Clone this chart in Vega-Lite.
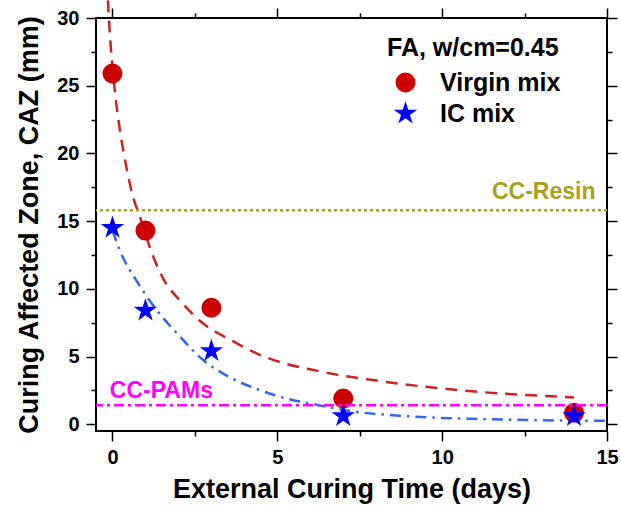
{
  "$schema": "https://vega.github.io/schema/vega-lite/v6.json",
  "width": 511,
  "height": 413,
  "autosize": {"type": "none"},
  "padding": {"left": 96, "top": 18, "right": 14, "bottom": 74},
  "config": {
    "font": "Liberation Sans",
    "view": {"stroke": "black", "strokeWidth": 2},
    "axis": {
      "domain": false, "grid": false, "tickColor": "black", "tickWidth": 1.5,
      "labelFont": "Liberation Sans", "labelFontSize": 20, "labelFontWeight": "bold", "labelColor": "black",
      "titleFont": "Liberation Sans", "titleFontSize": 27, "titleFontWeight": "bold", "titleColor": "black"
    },
    "legend": {
      "orient": "none", "legendX": 291, "legendY": 18, "padding": 0,
      "titleFont": "Liberation Sans", "titleFontSize": 25, "titleFontWeight": "bold", "titleColor": "black",
      "titlePadding": 9, "labelFont": "Liberation Sans", "labelFontSize": 25, "labelFontWeight": "bold",
      "labelColor": "black", "rowPadding": 5, "symbolOffset": 6, "labelOffset": 22, "symbolStrokeWidth": 0
    }
  },
  "datasets": {
    "points": [
      {"series": "Virgin mix", "x": 0, "y": 25.9},
      {"series": "Virgin mix", "x": 1, "y": 14.3},
      {"series": "Virgin mix", "x": 3, "y": 8.6},
      {"series": "Virgin mix", "x": 7, "y": 1.9},
      {"series": "Virgin mix", "x": 14, "y": 0.85},
      {"series": "IC mix", "x": 0, "y": 14.5},
      {"series": "IC mix", "x": 1, "y": 8.4},
      {"series": "IC mix", "x": 3, "y": 5.4},
      {"series": "IC mix", "x": 7, "y": 0.6},
      {"series": "IC mix", "x": 14, "y": 0.6}
    ],
    "virginFit": [
      {"x": -0.14, "y": 31.3}, {"x": -0.1, "y": 29.6}, {"x": -0.05, "y": 27.8}, {"x": 0.09, "y": 24.2},
      {"x": 0.24, "y": 21.5}, {"x": 0.42, "y": 19.0}, {"x": 0.6, "y": 17.0}, {"x": 0.85, "y": 15.2},
      {"x": 1.2, "y": 12.6}, {"x": 1.55, "y": 10.7}, {"x": 2.06, "y": 9.1}, {"x": 2.77, "y": 7.4},
      {"x": 3.6, "y": 6.2}, {"x": 4.4, "y": 5.2}, {"x": 5.2, "y": 4.5}, {"x": 6.1, "y": 4.0},
      {"x": 7.0, "y": 3.58}, {"x": 7.9, "y": 3.26}, {"x": 8.8, "y": 2.96}, {"x": 9.9, "y": 2.67},
      {"x": 11.0, "y": 2.41}, {"x": 12.0, "y": 2.24}, {"x": 13.0, "y": 2.1}, {"x": 14.0, "y": 1.98}
    ],
    "icFit": [
      {"x": 0, "y": 14.3}, {"x": 0.34, "y": 12.2}, {"x": 0.65, "y": 10.9}, {"x": 1.35, "y": 8.4},
      {"x": 1.96, "y": 6.7}, {"x": 2.77, "y": 4.7}, {"x": 3.57, "y": 3.45}, {"x": 4.38, "y": 2.6},
      {"x": 5.2, "y": 1.95}, {"x": 6.1, "y": 1.48}, {"x": 7.4, "y": 0.91}, {"x": 8.6, "y": 0.65},
      {"x": 9.7, "y": 0.49}, {"x": 10.9, "y": 0.4}, {"x": 12.0, "y": 0.34}, {"x": 13.5, "y": 0.28},
      {"x": 15.0, "y": 0.25}
    ],
    "resin": [{"label": "CC-Resin", "x": 14.65, "y": 16.6, "level": 15.8}],
    "pams": [{"label": "CC-PAMs", "x": -0.08, "y": 1.97, "level": 1.4}]
  },
  "layer": [
    {
      "data": {"name": "virginFit"},
      "mark": {"type": "line", "color": "#cc2222", "strokeWidth": 2.5, "strokeDash": [12, 8], "interpolate": "monotone"},
      "encoding": {
        "x": {"field": "x", "type": "quantitative", "scale": {"domain": [-0.5, 15], "nice": false, "zero": false},
          "axis": {"orient": "top", "values": [0, 5, 10, 15], "tickSize": 10, "labels": false, "title": null}},
        "y": {"field": "y", "type": "quantitative", "scale": {"domain": [-0.5, 30], "nice": false, "zero": false},
          "axis": {"orient": "right", "values": [0, 5, 10, 15, 20, 25, 30], "tickSize": 10, "labels": false, "title": null}}
      }
    },
    {
      "data": {"name": "icFit"},
      "mark": {"type": "line", "color": "#3366ee", "strokeWidth": 2.5, "strokeDash": [11, 6, 2.5, 6], "interpolate": "monotone"},
      "encoding": {
        "x": {"field": "x", "type": "quantitative", "scale": {"domain": [-0.5, 15], "nice": false, "zero": false},
          "axis": {"orient": "bottom", "values": [2.5, 7.5, 12.5], "tickSize": 5, "labels": false, "title": null}},
        "y": {"field": "y", "type": "quantitative", "scale": {"domain": [-0.5, 30], "nice": false, "zero": false},
          "axis": {"orient": "left", "values": [2.5, 7.5, 12.5, 17.5, 22.5, 27.5], "tickSize": 5, "labels": false, "title": null}}
      }
    },
    {
      "data": {"name": "points"},
      "mark": {"type": "point", "filled": true, "opacity": 1, "strokeWidth": 0},
      "encoding": {
        "x": {"field": "x", "type": "quantitative", "scale": {"domain": [-0.5, 15], "nice": false, "zero": false},
          "axis": {"orient": "bottom", "values": [0, 5, 10, 15], "tickSize": 10, "labelPadding": 6, "labelFlush": false,
            "title": "External Curing Time (days)", "titlePadding": 9}},
        "y": {"field": "y", "type": "quantitative", "scale": {"domain": [-0.5, 30], "nice": false, "zero": false},
          "axis": {"orient": "left", "values": [0, 5, 10, 15, 20, 25, 30], "tickSize": 10, "labelPadding": 7, "labelFlush": false,
            "title": "Curing Affected Zone, CAZ  (mm)", "titlePadding": 13}},
        "color": {"field": "series", "type": "nominal", "title": "FA, w/cm=0.45",
          "scale": {"domain": ["Virgin mix", "IC mix"], "range": ["#cc0000", "#0000ff"]}},
        "shape": {"field": "series", "type": "nominal", "title": "FA, w/cm=0.45",
          "scale": {"domain": ["Virgin mix", "IC mix"], "range": ["circle", "M0,-1L0.2245,-0.309L0.951,-0.309L0.363,0.118L0.588,0.809L0,0.382L-0.588,0.809L-0.363,0.118L-0.951,-0.309L-0.2245,-0.309Z"]}},
        "size": {"field": "series", "type": "nominal", "title": "FA, w/cm=0.45",
          "scale": {"domain": ["Virgin mix", "IC mix"], "range": [400, 605]}}
      }
    },
    {
      "data": {"name": "resin"},
      "mark": {"type": "rule", "color": "#a8a020", "strokeWidth": 2.5, "strokeDash": [3, 3]},
      "encoding": {
        "y": {"field": "level", "type": "quantitative", "axis": null}
      }
    },
    {
      "data": {"name": "pams"},
      "mark": {"type": "rule", "color": "#ff00ff", "strokeWidth": 2.5, "strokeDash": [10, 4, 3, 4]},
      "encoding": {
        "y": {"field": "level", "type": "quantitative", "axis": null}
      }
    },
    {
      "data": {"name": "resin"},
      "mark": {"type": "text", "align": "right", "baseline": "alphabetic", "fontSize": 23, "fontWeight": "bold", "color": "#a8a020", "font": "Liberation Sans"},
      "encoding": {
        "x": {"field": "x", "type": "quantitative", "scale": {"domain": [-0.5, 15], "nice": false, "zero": false},
          "axis": {"orient": "top", "values": [2.5, 7.5, 12.5], "tickSize": 5, "labels": false, "title": null}},
        "y": {"field": "y", "type": "quantitative", "scale": {"domain": [-0.5, 30], "nice": false, "zero": false},
          "axis": {"orient": "right", "values": [2.5, 7.5, 12.5, 17.5, 22.5, 27.5], "tickSize": 5, "labels": false, "title": null}},
        "text": {"field": "label"}
      }
    },
    {
      "data": {"name": "pams"},
      "mark": {"type": "text", "align": "left", "baseline": "alphabetic", "fontSize": 23, "fontWeight": "bold", "color": "#ff00ff", "font": "Liberation Sans"},
      "encoding": {
        "x": {"field": "x", "type": "quantitative", "axis": null},
        "y": {"field": "y", "type": "quantitative", "axis": null},
        "text": {"field": "label"}
      }
    }
  ],
  "resolve": {"axis": {"x": "independent", "y": "independent"}}
}
